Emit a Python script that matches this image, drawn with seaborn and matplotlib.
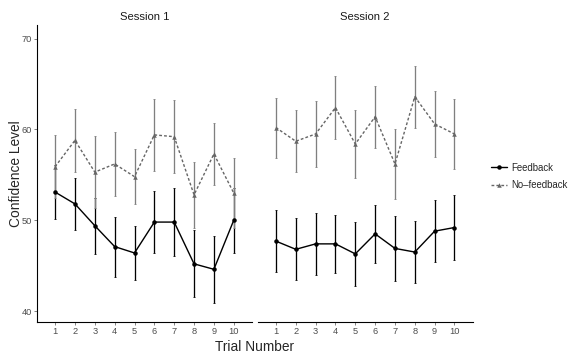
import matplotlib
matplotlib.use("Agg")
import matplotlib.pyplot as plt
import numpy as np
import pandas as pd
import seaborn as sns

sns.set_theme(style="ticks")
plt.rcParams["font.family"] = ["Liberation Sans", "DejaVu Sans"]

trials = list(range(1, 11))
sessions = ["Session 1", "Session 2"]
conditions = ["Feedback", "No\u2013feedback"]

s1_fb = [53.1, 51.8, 49.4, 47.1, 46.4, 49.8, 49.8, 45.2, 44.6, 50.0]
s1_fb_err = [3.0, 2.9, 3.1, 3.3, 3.0, 3.4, 3.7, 3.7, 3.7, 3.6]
s1_nf = [55.9, 58.8, 55.3, 56.2, 54.8, 59.4, 59.2, 52.8, 57.3, 53.0]
s1_nf_err = [3.5, 3.5, 4.0, 3.5, 3.0, 4.0, 4.0, 3.6, 3.4, 3.9]
s2_fb = [47.7, 46.8, 47.4, 47.4, 46.3, 48.5, 46.9, 46.5, 48.8, 49.2]
s2_fb_err = [3.4, 3.4, 3.4, 3.2, 3.5, 3.2, 3.6, 3.4, 3.4, 3.6]
s2_nf = [60.2, 58.7, 59.5, 62.4, 58.4, 61.4, 56.2, 63.6, 60.6, 59.5]
s2_nf_err = [3.3, 3.4, 3.6, 3.5, 3.7, 3.4, 3.9, 3.4, 3.6, 3.9]

rows = []
for sess, fb, fbe, nf, nfe in [
    (sessions[0], s1_fb, s1_fb_err, s1_nf, s1_nf_err),
    (sessions[1], s2_fb, s2_fb_err, s2_nf, s2_nf_err),
]:
    for t, m, e in zip(trials, fb, fbe):
        rows.append((sess, conditions[0], t, m, e))
    for t, m, e in zip(trials, nf, nfe):
        rows.append((sess, conditions[1], t, m, e))
df = pd.DataFrame(rows, columns=["session", "condition", "trial", "mean", "se"])

colors = {conditions[0]: "black", conditions[1]: "#666666"}
errcolors = {conditions[0]: "black", conditions[1]: "#7f7f7f"}
markers = {conditions[0]: "o", conditions[1]: "^"}
dashes = {conditions[0]: "", conditions[1]: (2, 1.5)}

fig = plt.figure(figsize=(8, 5), dpi=72)
axes = [fig.add_axes([0.064, 0.1056, 0.3735, 0.825]),
        fig.add_axes([0.4474, 0.1056, 0.3733, 0.825])]

for i, (ax, sess) in enumerate(zip(axes, sessions)):
    sub = df[df["session"] == sess]
    for cond in conditions:
        d = sub[sub["condition"] == cond]
        ax.errorbar(d["trial"], d["mean"], yerr=d["se"], fmt="none",
                    ecolor=errcolors[cond], elinewidth=1.3, capsize=1.3,
                    capthick=0.8, zorder=1)
    sns.lineplot(data=sub, x="trial", y="mean", hue="condition",
                 style="condition", hue_order=conditions, style_order=conditions,
                 palette=colors, markers=markers, dashes=dashes,
                 markersize=4.5, markeredgewidth=0, linewidth=1.4,
                 ax=ax, legend=(i == 0), zorder=2)
    ax.set_xlim(0.08, 10.92)
    ax.set_ylim(38.8, 71.5)
    ax.set_xticks(trials)
    ax.set_yticks([40, 50, 60, 70])
    ax.set_xlabel("")
    ax.set_ylabel("")
    ax.set_title(sess, fontsize=11.3, color="#1a1a1a", pad=5)
    ax.tick_params(axis="both", labelsize=9.3, labelcolor="#4D4D4D",
                   length=2.75, width=0.6, color="#333333", pad=2)
    for side in ["top", "right"]:
        ax.spines[side].set_visible(False)
    ax.spines["bottom"].set_linewidth(1.1)
    ax.spines["left"].set_linewidth(1.1)
    ax.spines["bottom"].set_color("black")
    ax.spines["left"].set_color("black")
    if i == 1:
        ax.spines["left"].set_visible(False)
        ax.tick_params(axis="y", left=False, labelleft=False)

handles, labels = axes[0].get_legend_handles_labels()
axes[0].get_legend().remove()
fig.legend(handles, labels, loc="center left", bbox_to_anchor=(0.838, 0.51),
           frameon=False, fontsize=9.6, handlelength=1.6, handletextpad=0.5,
           labelspacing=0.8)

fig.text(0.4425, 0.025, "Trial Number", ha="center", fontsize=13.7)
fig.text(0.016, 0.518, "Confidence Level", va="center", rotation=90, fontsize=13.7)

fig.savefig("out.png", dpi=72)
